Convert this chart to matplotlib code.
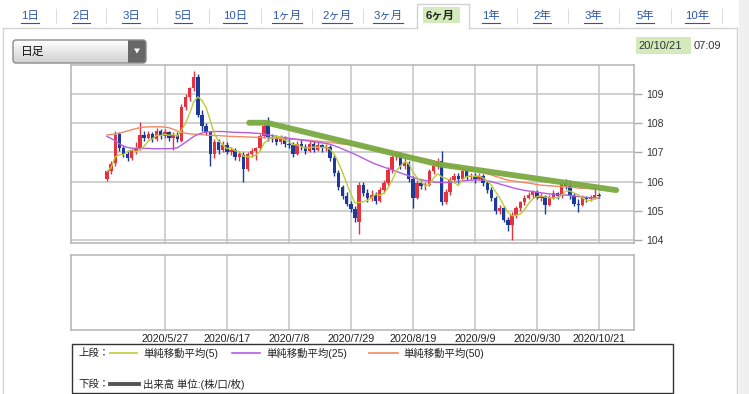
import matplotlib
matplotlib.use('Agg')
import matplotlib.pyplot as plt
import numpy as np
import pandas as pd
from matplotlib.patches import Rectangle, FancyBboxPatch, Polygon
from matplotlib.colors import LinearSegmentedColormap

plt.rcParams['font.family'] = ['Liberation Sans', 'Noto Sans CJK JP', 'DejaVu Sans']

# ---------------- data ----------------
tab_labels = ["1日", "2日", "3日", "5日", "10日", "1ヶ月", "2ヶ月", "3ヶ月",
              "6ヶ月", "1年", "2年", "3年", "5年", "10年"]
active_tab = "6ヶ月"
dropdown_label = "日足"
stamp_date = "20/10/21"
stamp_time = "07:09"
date_labels = ["2020/5/27", "2020/6/17", "2020/7/8", "2020/7/29",
               "2020/8/19", "2020/9/9", "2020/9/30", "2020/10/21"]
date_index = [14, 29, 44, 59, 74, 89, 104, 119]
price_ticks = [104, 105, 106, 107, 108, 109]
legend_upper = ["単純移動平均(5)", "単純移動平均(25)", "単純移動平均(50)"]
legend_lower = "出来高 単位:(株/口/枚)"

opens = [106.10, 106.35, 106.65, 107.65, 107.15, 106.95, 106.80, 107.05, 107.15, 107.60,
         107.50, 107.65, 107.45, 107.75, 107.55, 107.70, 107.50, 107.60, 107.40, 108.55,
         108.90, 109.20, 109.60, 108.30, 107.90, 107.70, 106.95, 107.35, 107.10, 107.25,
         107.00, 107.10, 106.85, 106.90, 106.45, 106.95, 107.05, 107.15, 107.55, 107.95,
         107.50, 107.45, 107.35, 107.50, 107.30, 107.25, 106.95, 107.30, 107.20, 107.05,
         107.30, 107.10, 107.25, 107.15, 107.20, 106.80, 106.30, 105.80, 105.50, 105.25,
         105.05, 104.60, 105.90, 105.60, 105.45, 105.55, 105.35, 105.70, 105.95, 106.40,
         106.85, 106.95, 106.55, 106.65, 106.10, 105.45, 105.95, 105.85, 105.90, 106.35,
         106.55, 106.70, 105.30, 105.65, 106.05, 106.20, 106.10, 106.35, 106.15, 106.20,
         106.10, 106.20, 105.95, 105.70, 105.45, 105.00, 105.10, 104.70, 104.50, 104.85,
         105.10, 105.30, 105.45, 105.55, 105.65, 105.45, 105.50, 105.20, 105.45, 105.60,
         105.50, 105.95, 105.85, 105.50, 105.25, 105.20, 105.45, 105.40, 105.45, 105.55]
highs = [106.40, 106.70, 107.75, 107.70, 107.25, 107.10, 107.15, 107.35, 108.05, 107.75,
         107.75, 107.70, 107.85, 107.80, 107.80, 107.75, 107.70, 107.70, 108.65, 109.00,
         109.25, 109.80, 109.70, 108.45, 108.00, 107.75, 107.45, 107.45, 107.40, 107.35,
         107.20, 107.15, 107.05, 107.00, 107.00, 107.15, 107.20, 107.65, 108.00, 108.20,
         107.65, 107.60, 107.60, 107.55, 107.50, 107.35, 107.40, 107.45, 107.30, 107.40,
         107.40, 107.35, 107.30, 107.30, 107.25, 106.90, 106.40, 105.90, 105.65, 105.35,
         105.15, 106.00, 106.00, 105.75, 105.70, 105.65, 105.80, 106.05, 106.50, 106.95,
         107.05, 107.00, 106.80, 106.70, 106.20, 106.05, 106.05, 106.00, 106.45, 106.65,
         106.80, 107.05, 105.75, 106.15, 106.30, 106.30, 106.45, 106.40, 106.30, 106.30,
         106.30, 106.25, 106.05, 105.80, 105.50, 105.20, 105.15, 104.80, 104.95, 105.15,
         105.35, 105.55, 105.65, 105.70, 105.70, 105.60, 105.55, 105.55, 105.70, 105.65,
         106.00, 106.10, 106.05, 105.60, 105.40, 105.55, 105.50, 105.55, 105.80, 105.60]
lows = [106.02, 106.25, 106.55, 107.05, 106.85, 106.70, 106.75, 106.95, 107.10, 107.40,
        107.45, 107.35, 107.40, 107.45, 107.50, 107.40, 107.10, 107.35, 107.35, 108.45,
        108.75, 109.10, 108.20, 107.75, 107.60, 106.55, 106.80, 106.95, 107.00, 106.95,
        106.90, 106.75, 106.70, 106.00, 106.35, 106.85, 106.75, 107.10, 107.50, 107.40,
        107.35, 107.25, 107.30, 107.20, 107.15, 106.85, 106.90, 107.10, 106.95, 107.00,
        107.00, 107.05, 107.00, 107.05, 106.70, 106.20, 105.70, 105.40, 105.15, 104.95,
        104.60, 104.20, 105.50, 105.30, 105.35, 105.25, 105.30, 105.60, 105.90, 106.30,
        106.75, 106.45, 106.45, 106.00, 105.10, 105.40, 105.75, 105.70, 105.85, 106.25,
        106.45, 105.20, 105.25, 105.55, 105.95, 105.95, 106.05, 106.05, 106.05, 105.95,
        106.05, 105.85, 105.60, 105.35, 104.90, 104.90, 104.60, 104.30, 104.00, 104.75,
        105.00, 105.20, 105.40, 105.45, 105.40, 105.35, 104.90, 105.15, 105.40, 105.40,
        105.45, 105.75, 105.40, 105.15, 104.95, 105.15, 105.30, 105.35, 105.40, 105.45]
closes = [106.35, 106.60, 107.60, 107.15, 106.95, 106.80, 107.05, 107.15, 107.60, 107.50,
          107.65, 107.45, 107.75, 107.55, 107.70, 107.50, 107.60, 107.45, 108.55, 108.90,
          109.20, 109.60, 108.30, 107.90, 107.70, 106.95, 107.35, 107.10, 107.25, 107.00,
          107.10, 106.85, 106.95, 106.45, 106.95, 107.05, 107.15, 107.55, 107.90, 107.50,
          107.45, 107.35, 107.50, 107.30, 107.25, 106.95, 107.30, 107.20, 107.05, 107.30,
          107.10, 107.25, 107.15, 107.20, 106.80, 106.30, 105.80, 105.50, 105.25, 105.05,
          104.75, 105.90, 105.60, 105.45, 105.55, 105.35, 105.70, 105.95, 106.40, 106.85,
          106.95, 106.55, 106.65, 106.10, 105.45, 105.95, 105.85, 105.90, 106.35, 106.55,
          106.70, 105.30, 105.65, 106.05, 106.20, 106.10, 106.35, 106.15, 106.20, 106.10,
          106.20, 105.95, 105.70, 105.45, 105.00, 105.10, 104.70, 104.50, 104.85, 105.10,
          105.30, 105.45, 105.55, 105.65, 105.45, 105.50, 105.20, 105.45, 105.60, 105.50,
          105.95, 105.85, 105.50, 105.25, 105.20, 105.45, 105.40, 105.45, 105.55, 105.50]
ma25 = [107.55, 107.48, 107.40, 107.30, 107.22, 107.17, 107.15, 107.14, 107.14, 107.14,
        107.14, 107.13, 107.13, 107.13, 107.13, 107.13, 107.14, 107.16, 107.25, 107.35,
        107.45, 107.55, 107.62, 107.67, 107.70, 107.71, 107.72, 107.72, 107.72, 107.71,
        107.70, 107.69, 107.69, 107.68, 107.68, 107.67, 107.66, 107.65, 107.63, 107.60,
        107.58, 107.55, 107.53, 107.51, 107.49, 107.47, 107.45, 107.43, 107.41, 107.39,
        107.37, 107.35, 107.33, 107.31, 107.28, 107.23, 107.18, 107.12, 107.06, 107.00,
        106.94, 106.87, 106.80, 106.73, 106.66, 106.60, 106.55, 106.50, 106.45, 106.40,
        106.35, 106.30, 106.25, 106.20, 106.15, 106.10, 106.07, 106.04, 106.01, 105.99,
        105.98, 105.97, 105.97, 105.98, 105.99, 106.01, 106.03, 106.04, 106.05, 106.06,
        106.06, 106.05, 106.03, 106.00, 105.96, 105.92, 105.88, 105.84, 105.80, 105.76,
        105.73, 105.70, 105.68, 105.66, 105.64, 105.62, 105.60, 105.58, 105.57, 105.56,
        105.55, 105.54, 105.53, 105.51, 105.49, 105.47, 105.46, 105.45, 105.44, 105.43]
ma50 = [107.60, 107.62, 107.64, 107.66, 107.70, 107.74, 107.78, 107.82, 107.85, 107.87,
        107.88, 107.88, 107.88, 107.88, 107.87, 107.85, 107.80, 107.74, 107.69, 107.66,
        107.64, 107.63, 107.62, 107.61, 107.60, 107.59, 107.58, 107.58, 107.57, 107.56,
        107.55, 107.55, 107.54, 107.54, 107.53, 107.53, 107.52, 107.52, 107.51, 107.51,
        107.50, 107.49, 107.48, 107.47, 107.46, 107.45, 107.45, 107.44, 107.43, 107.42,
        107.40, 107.39, 107.38, 107.36, 107.35, 107.33, 107.31, 107.29, 107.28, 107.26,
        107.24, 107.21, 107.19, 107.16, 107.14, 107.12, 107.09, 107.06, 107.03, 107.00,
        106.97, 106.95, 106.92, 106.89, 106.86, 106.83, 106.80, 106.78, 106.75, 106.71,
        106.67, 106.63, 106.59, 106.55, 106.52, 106.49, 106.46, 106.43, 106.40, 106.38,
        106.35, 106.31, 106.27, 106.23, 106.18, 106.14, 106.09, 106.05, 106.03, 106.01,
        105.99, 105.97, 105.95, 105.93, 105.90, 105.88, 105.87, 105.86, 105.85, 105.84,
        105.83, 105.82, 105.81, 105.80, 105.78, 105.77, 105.77, 105.76, 105.75, 105.75]
# hand-drawn green trend line (candle index, price)
trend_idx = [34.4, 38.7, 80.0, 123.2]
trend_price = [108.02, 108.02, 106.60, 105.71]

# ---------------- layout ----------------
W, H = 749, 394
fig = plt.figure(figsize=(W / 100, H / 100), dpi=100)
fig.patch.set_facecolor('white')

page = fig.add_axes([0, 0, 1, 1])
page.set_xlim(0, W)
page.set_ylim(H, 0)
page.axis('off')
page.set_zorder(0)

FRAME = '#d2d2d2'
page.plot([3, 417], [28, 28], color=FRAME, lw=1)
page.plot([469, 737], [28, 28], color=FRAME, lw=1)
page.plot([3, 3], [28, H], color=FRAME, lw=1)
page.plot([737, 737], [28, H], color=FRAME, lw=1)
page.add_patch(Rectangle((739, 0), 10, H, facecolor='#f0f0f0', edgecolor='none'))
page.plot([417, 417, 469, 469], [28, 4, 4, 28], color=FRAME, lw=1)
page.add_patch(Rectangle((423, 7), 37, 16, facecolor='#d3ebbb', edgecolor='none'))

tab_x = [30, 81, 131, 183, 235, 287, 337, 388, 440, 491, 542, 593, 645, 697]
tab_texts = []
for lbl, x in zip(tab_labels, tab_x):
    if lbl == active_tab:
        page.text(x, 15.5, lbl, ha='center', va='center', fontsize=8.2,
                  color='#222222', fontweight='semibold')
    else:
        t = page.text(x, 15.5, lbl, ha='center', va='center', fontsize=8.2,
                      color='#2c55a8')
        tab_texts.append(t)
for a, b in zip(tab_x[:-1], tab_x[1:]):
    xm = (a + b) / 2
    if abs(xm - 414) < 30 or abs(xm - 466) < 30:
        continue
    page.plot([xm, xm], [9, 23], color='#dddddd', lw=0.8)
page.plot([722, 722], [9, 23], color='#dddddd', lw=0.8)

# dropdown
box = FancyBboxPatch((13, 40), 133, 23, boxstyle='round,pad=0,rounding_size=3',
                     facecolor='none', edgecolor='#8a8a8a', lw=1, zorder=3)
page.add_patch(box)
grad = np.linspace(0, 1, 60).reshape(-1, 1)
cmap = LinearSegmentedColormap.from_list('g', ['#ffffff', '#d0d0d0'])
im = page.imshow(grad, extent=(13, 146, 63, 40), origin='upper', cmap=cmap,
                 aspect='auto', zorder=1)
im.set_clip_path(box)
btn = Rectangle((128, 40), 18, 23, facecolor='#686868', edgecolor='none', zorder=2)
page.add_patch(btn)
btn.set_clip_path(box)
page.add_patch(Polygon([(134, 48.5), (140, 48.5), (137, 53.5)], closed=True,
                       facecolor='white', edgecolor='none', zorder=4))
page.text(21, 52, dropdown_label, ha='left', va='center', fontsize=8.5,
          color='#111111', zorder=4)
page.set_xlim(0, W)
page.set_ylim(H, 0)

# timestamp
page.add_patch(Rectangle((636, 37), 55, 17, facecolor='#d3ebbb', edgecolor='none'))
page.text(638, 46, stamp_date, ha='left', va='center', fontsize=8, color='#333333')
page.text(694, 46, stamp_time, ha='left', va='center', fontsize=8, color='#333333')

# ---------------- main chart ----------------
L, R = 71, 634
ax = fig.add_axes([L / W, 1 - 243 / H, (R - L) / W, (243 - 65) / H])
ax.set_zorder(2)
ax.set_facecolor('white')
idx = np.arange(len(closes))
o = np.array(opens); c = np.array(closes)
hi = np.array(highs); lo = np.array(lows)
up = c >= o
col = np.where(up, '#e6323e', '#1b3a9a')
ax.vlines(idx, lo, hi, colors=col, lw=1.0, zorder=3)
body_bot = np.minimum(o, c)
body_h = np.maximum(np.abs(c - o), 0.03)
ax.bar(idx, body_h, bottom=body_bot, width=0.82, color=col, edgecolor='none', zorder=4)

ma5 = pd.Series(closes).rolling(5, min_periods=1).mean()
ax.plot(idx, ma50, color='#f08a62', lw=1.0, zorder=5)
ax.plot(idx, ma25, color='#b35ee0', lw=1.0, zorder=5)
ax.plot(idx, ma5, color='#bccb3a', lw=1.0, zorder=6)
ax.plot(trend_idx, trend_price, color='#7aaa40', lw=4.2, solid_capstyle='round',
        zorder=7, alpha=0.95)

xmin, xmax = -8.7, 127.5
ax.set_xlim(xmin, xmax)
ax.set_ylim(103.897, 110.0)
ax.set_xticks(date_index)
ax.set_xticklabels([])
ax.tick_params(axis='x', length=0)
ax.set_yticks(price_ticks)
ax.yaxis.tick_right()
ax.tick_params(axis='y', length=6, width=1, color='#aaaaaa', pad=3,
               labelsize=7.5, labelcolor='#333333')
ax.grid(True, color='#c4c4c4', lw=1.1, zorder=0)
ax.set_axisbelow(True)
for s in ax.spines.values():
    s.set_color('#b4b4b4')
    s.set_linewidth(1.1)

# ---------------- lower panel ----------------
ax2 = fig.add_axes([L / W, 1 - 330 / H, (R - L) / W, (330 - 255) / H])
ax2.set_zorder(2)
ax2.set_facecolor('white')
ax2.set_xlim(xmin, xmax)
ax2.set_ylim(0, 1)
ax2.set_yticks([])
ax2.set_xticks(date_index)
ax2.set_xticklabels(date_labels, fontsize=7.7, color='#222222')
ax2.tick_params(axis='x', length=0, pad=3)
ax2.grid(True, axis='x', color='#c4c4c4', lw=1.1)
for s in ax2.spines.values():
    s.set_color('#b4b4b4')
    s.set_linewidth(1.1)

# ---------------- legend ----------------
page.add_patch(Rectangle((72, 344), 601, 49, facecolor='white', edgecolor='#333333', lw=1))
page.text(78, 353, "上段：", ha='left', va='center', fontsize=7.5, color='#222222')
leg_cols = ['#bccb3a', '#b35ee0', '#f08a62']
leg_line_x = [(110, 137), (232, 260), (369, 398)]
leg_text_x = [143, 266, 403]
for lbl, cc, (a, b), tx in zip(legend_upper, leg_cols, leg_line_x, leg_text_x):
    page.plot([a, b], [353, 353], color=cc, lw=1.2)
    page.text(tx, 353, lbl, ha='left', va='center', fontsize=7.5, color='#222222')
page.text(78, 384, "下段：", ha='left', va='center', fontsize=7.5, color='#222222')
page.plot([110, 139], [384, 384], color='#555555', lw=2.8)
page.text(143, 384, legend_lower, ha='left', va='center', fontsize=7.5, color='#222222')

# underline tab labels
fig.canvas.draw()
rend = fig.canvas.get_renderer()
inv = page.transData.inverted()
for t in tab_texts:
    bb = t.get_window_extent(rend)
    (x0, y0), (x1, y1) = inv.transform([[bb.x0, bb.y0], [bb.x1, bb.y1]])
    page.plot([x0, x1], [22.5, 22.5], color='#2c55a8', lw=0.8)

page.set_xlim(0, W)
page.set_ylim(H, 0)
fig.savefig('out.png', dpi=100, facecolor='white')
